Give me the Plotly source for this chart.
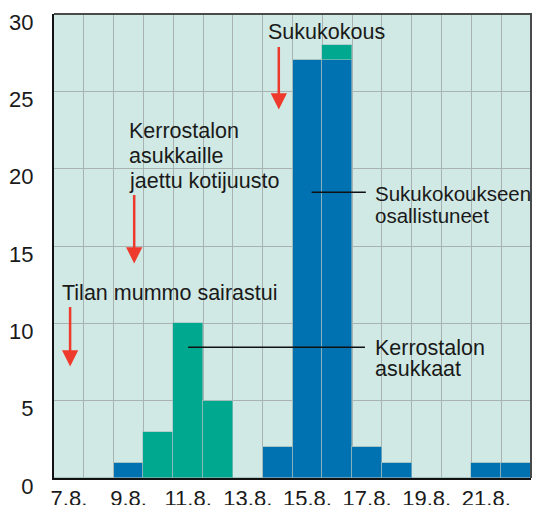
import plotly.graph_objects as go

# ---- data ----
dates = ["7.8.", "8.8.", "9.8.", "10.8.", "11.8.", "12.8.", "13.8.", "14.8.",
         "15.8.", "16.8.", "17.8.", "18.8.", "19.8.", "20.8.", "21.8.", "22.8."]
sukukokous = [0, 0, 1, 0, 0, 0, 0, 2, 27, 27, 2, 1, 0, 0, 1, 1]
kerrostalo = [0, 0, 0, 3, 10, 5, 0, 0, 0, 1, 0, 0, 0, 0, 0, 0]
x_tick_labels = ["7.8.", "9.8.", "11.8.", "13.8.", "15.8.", "17.8.", "19.8.", "21.8."]
y_ticks = [0, 5, 10, 15, 20, 25, 30]

BLUE = "#0072b1"
GREEN = "#00a88f"
RED = "#ee3a2c"
BG = "#d0e9e4"
GRID = "#a8b3b1"
TXT = "#1a1a1a"
FONT = "Liberation Sans, Arial, sans-serif"

idx = list(range(len(dates)))
tick_pos = [dates.index(t) for t in x_tick_labels]

SEAM = "rgba(160,190,190,0.6)"
fig = go.Figure()
fig.add_trace(go.Bar(x=idx, y=sukukokous, marker=dict(color=BLUE, line=dict(color=SEAM, width=1)),
                     width=1, name="Sukukokoukseen osallistuneet"))
fig.add_trace(go.Bar(x=idx, y=kerrostalo, marker=dict(color=GREEN, line=dict(color=SEAM, width=1)),
                     width=1, name="Kerrostalon asukkaat"))

# page body has an 8px default margin; figure sized to fit the window
fig.update_layout(
    width=536, height=497,
    margin=dict(l=46, r=13, t=6, b=27, autoexpand=False),
    barmode="stack", bargap=0,
    showlegend=False,
    paper_bgcolor="white", plot_bgcolor=BG,
    font=dict(family=FONT, size=22, color=TXT),
)
fig.update_xaxes(
    range=[-0.5, len(dates) - 0.5], automargin=False,
    tickmode="array", tickvals=tick_pos, ticktext=x_tick_labels,
    showgrid=False, zeroline=False,
    ticks="", ticklabelstandoff=0,
    showline=True, linecolor="#111", linewidth=2,
    minor=dict(tick0=-0.5, dtick=1, showgrid=True, gridcolor=GRID, gridwidth=1, ticks=""),
    tickfont=dict(family=FONT, size=22, color=TXT),
)
fig.update_yaxes(
    range=[0, 30], automargin=False, tickmode="array", tickvals=y_ticks,
    showgrid=True, gridcolor=GRID, gridwidth=1, zeroline=False,
    ticks="", ticklabelstandoff=14, ticklabelshift=8,
    showline=True, linecolor="#111", linewidth=2,
    tickfont=dict(family=FONT, size=22, color=TXT),
)

# top/right border
fig.add_shape(type="path", xref="paper", yref="paper", path="M 0,1 L 1,1 L 1,0",
              line=dict(color="#4a4a4a", width=2), layer="above")

# text labels (one per line): text, x, y, size
labels = [
    ("Tilan mummo sairastui", -0.30, 11.99, 21.5),
    ("Kerrostalon", 1.94, 22.43, 21.5),
    ("asukkaille", 1.94, 20.81, 21.5),
    ("jaettu kotijuusto", 1.94, 19.23, 21.5),
    ("Sukukokous", 6.61, 28.82, 21.5),
    ("Sukukokoukseen", 10.19, 18.37, 20.5),
    ("osallistuneet", 10.19, 16.97, 20.5),
    ("Kerrostalon", 10.19, 8.42, 21.5),
    ("asukkaat", 10.19, 7.06, 21.5),
]
for t, xx, yy, fs in labels:
    fig.add_annotation(text=t, x=xx, y=yy, xref="x", yref="y", xanchor="left", yanchor="middle",
                       showarrow=False, font=dict(family=FONT, size=fs, color=TXT))

# red arrows: (tip x, tip y, tail offset px)
arrows = [(0.04, 7.21, -61), (2.19, 13.87, -70), (7.04, 23.82, -64)]
for xx, yy, ay in arrows:
    fig.add_annotation(text="", x=xx, y=yy, xref="x", yref="y", ax=0, ay=ay,
                       showarrow=True, arrowhead=2, arrowsize=1.3, arrowwidth=2.5, arrowcolor=RED)

# connector lines
for x0, x1, yy in [(8.14, 9.96, 18.47), (4.0, 9.93, 8.46)]:
    fig.add_shape(type="line", xref="x", yref="y", x0=x0, x1=x1, y0=yy, y1=yy,
                  line=dict(color="#111", width=1.5), layer="above")

fig.write_html("out.html")
